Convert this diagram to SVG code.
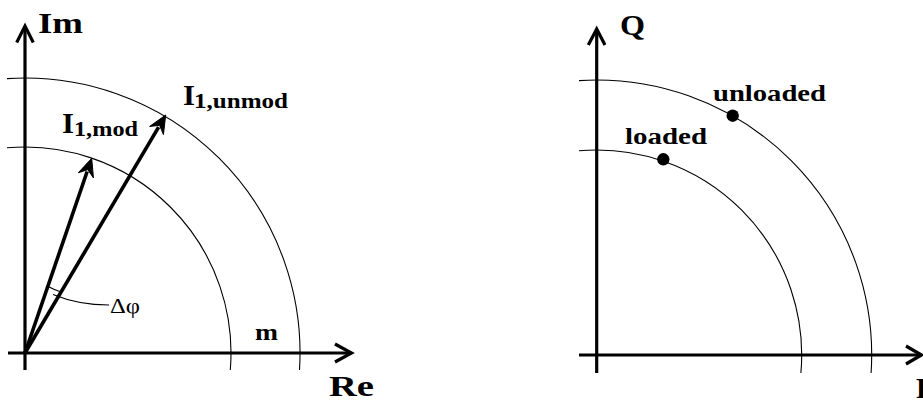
<svg xmlns="http://www.w3.org/2000/svg" width="923" height="401" viewBox="0 0 923 401">
<style>
.axis{stroke:#000;stroke-width:3.2;fill:none}
.head{stroke:#000;stroke-width:3.2;fill:none;stroke-linecap:butt;stroke-linejoin:miter}
.circ{stroke:#000;stroke-width:1.1;fill:none}
.vec{stroke:#000;stroke-width:3.6;fill:none}
.vhead{fill:#000;stroke:#000;stroke-width:1;stroke-linejoin:miter}
.thin{stroke:#000;stroke-width:1.1;fill:none}
text{font-family:"Liberation Serif","Times New Roman",serif;font-weight:bold;fill:#000}
.big{font-size:30px}
.sub{font-size:21px}
.mid{font-size:24px}
.greek{font-size:21px;font-weight:normal}
</style>
<rect width="923" height="401" fill="#fff"/>

<g id="left-plot">
  <g id="left-circles">
    <path class="circ" d="M7 78.6 A275 275 0 0 1 299.5 370"/>
    <path class="circ" d="M7 147.8 A206 206 0 0 1 230.3 370"/>
  </g>
  <g id="left-axes">
    <line class="axis" x1="25" y1="370" x2="25" y2="27"/>
    <polyline class="head" points="16.7,42.5 25,26 33.3,42.5"/>
    <line class="axis" x1="8" y1="353" x2="350" y2="353"/>
    <polyline class="head" points="335,344 351.5,353 335,362"/>
  </g>
  <g id="vector-unmod">
    <line class="vec" x1="25" y1="353" x2="158.6" y2="127.1"/>
    <polygon class="vhead" points="165.7,115 163.43,134.57 159.6,125.33 149.65,126.43"/>
  </g>
  <g id="vector-mod">
    <line class="vec" x1="25" y1="353" x2="87.16" y2="171.54"/>
    <polygon class="vhead" points="91.7,158.3 93.44,177.92 87.81,169.65 78.3,172.74"/>
  </g>
  <g id="angle">
    <path class="thin" d="M47.2 286.1 A71 71 0 0 0 61.8 292.3" transform="rotate(0)"/>
    <path class="thin" d="M53 294.5 C70 301.5 86 305 109 305"/>
  </g>
  <g id="left-labels">
    <text class="big" x="38" y="33" textLength="45" lengthAdjust="spacingAndGlyphs">Im</text>
    <text class="big" x="329" y="396" textLength="45" lengthAdjust="spacingAndGlyphs">Re</text>
    <text class="big" x="183" y="105" textLength="12" lengthAdjust="spacingAndGlyphs">I</text>
    <text class="sub" x="194" y="108" textLength="94" lengthAdjust="spacingAndGlyphs">1,unmod</text>
    <text class="big" x="62" y="133" textLength="12" lengthAdjust="spacingAndGlyphs">I</text>
    <text class="sub" x="74" y="136" textLength="64" lengthAdjust="spacingAndGlyphs">1,mod</text>
    <text class="greek" x="110" y="313" textLength="30" lengthAdjust="spacingAndGlyphs">Δφ</text>
    <text class="mid" x="255" y="340" textLength="23" lengthAdjust="spacingAndGlyphs">m</text>
  </g>
</g>

<g id="right-plot">
  <g id="right-circles">
    <path class="circ" d="M579 80.6 A275 275 0 0 1 871.1 373"/>
    <path class="circ" d="M579 150.8 A205 205 0 0 1 800.9 373"/>
  </g>
  <g id="right-axes">
    <line class="axis" x1="596.7" y1="373" x2="596.7" y2="30"/>
    <polyline class="head" points="588.3,45 596.7,29 605,45"/>
    <line class="axis" x1="579" y1="355" x2="920" y2="355"/>
    <polyline class="head" points="906,346 921.5,355 906,364"/>
  </g>
  <g id="point-unloaded">
    <circle cx="732.7" cy="115.7" r="6.2" fill="#000"/>
    <text class="mid" x="713" y="101" textLength="113" lengthAdjust="spacingAndGlyphs">unloaded</text>
  </g>
  <g id="point-loaded">
    <circle cx="663.3" cy="159.3" r="6.2" fill="#000"/>
    <text class="mid" x="625" y="144" textLength="82" lengthAdjust="spacingAndGlyphs">loaded</text>
  </g>
  <g id="right-labels">
    <text class="big" x="620" y="35" textLength="25" lengthAdjust="spacingAndGlyphs">Q</text>
    <text class="big" x="916" y="398">P</text>
  </g>
</g>
</svg>
